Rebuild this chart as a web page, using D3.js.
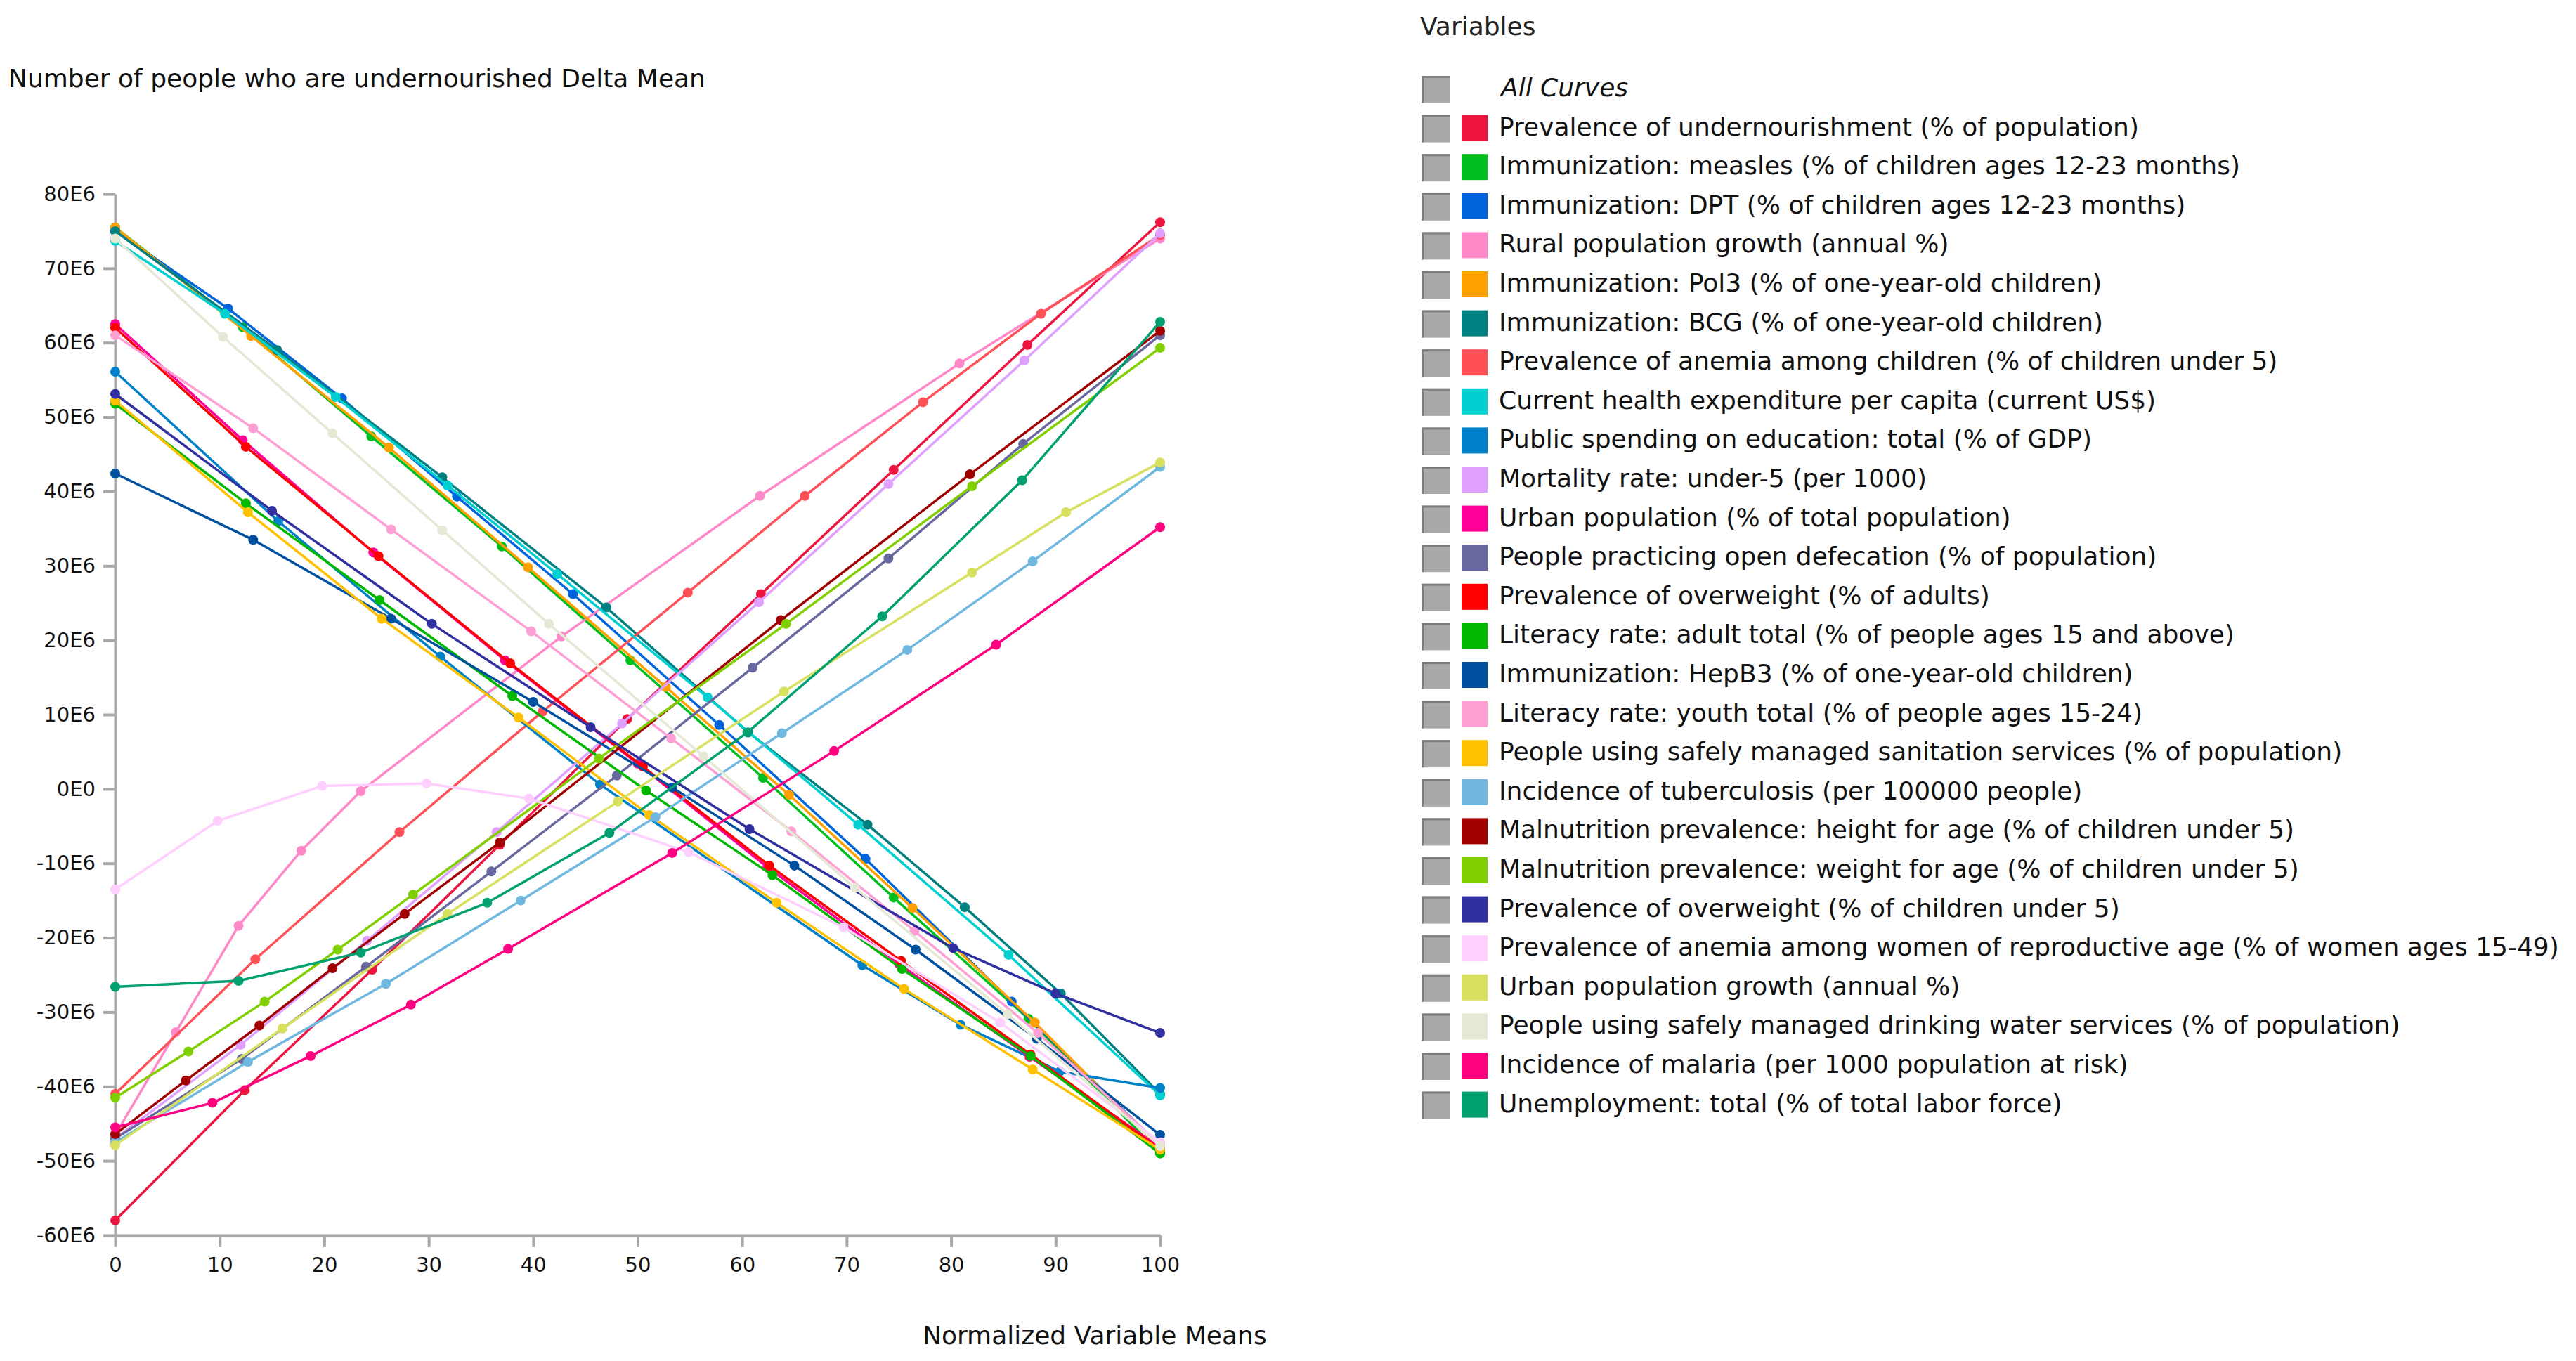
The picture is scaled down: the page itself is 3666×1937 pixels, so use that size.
<!DOCTYPE html>
<html>
<head>
<meta charset="utf-8">
<script src="https://cdn.jsdelivr.net/npm/d3@7"></script>
<style>
  body { margin: 0; background: #fff; }
  svg { display: block; font-family: "DejaVu Sans", sans-serif; }
</style>
</head>
<body>
<svg id="chart" width="3666" height="1937"></svg>
<script>
// x = normalized variable mean, y = delta mean (millions)
const undernourishment = [[0,-58],[12.4,-40.5],[24.6,-24.3],[36.8,-7.5],[49,9.4],[61.8,26.2],[74.5,42.9],[87.3,59.7],[100,76.2]];
const measles = [[0,75.5],[12.2,62.1],[24.5,47.4],[37,32.6],[49.3,17.3],[62,1.5],[74.5,-14.6],[87.4,-30.9],[100,-49]];
const dpt = [[0,75],[10.8,64.6],[21.7,52.5],[32.7,39.3],[43.8,26.2],[57.8,8.6],[71.8,-9.4],[85.8,-28.6],[100,-48]];
const ruralGrowth = [[0,-46.5],[5.8,-32.7],[11.8,-18.4],[17.8,-8.3],[23.5,-0.3],[42.7,20.5],[61.7,39.4],[80.8,57.2],[100,74]];
const pol3 = [[0,75.5],[13,60.9],[26.2,45.9],[39.5,29.8],[52.7,13.7],[64.5,-0.8],[76.3,-16],[88,-31.4],[100,-48.3]];
const bcg = [[0,75],[15.5,59],[31.3,41.9],[47,24.4],[60.6,7.6],[72,-4.8],[81.3,-15.9],[90.5,-27.5],[100,-41]];
const anemiaChildren = [[0,-41],[13.4,-22.9],[27.2,-5.8],[40.9,10.4],[54.8,26.4],[66,39.4],[77.3,52],[88.6,63.9],[100,74.5]];
const healthExp = [[0,73.7],[10.5,63.9],[21.1,52.7],[31.8,40.8],[42.3,28.9],[56.7,12.3],[71.1,-4.8],[85.5,-22.3],[100,-41.2]];
const eduSpending = [[0,56.1],[15.6,36],[31.1,17.8],[46.4,0.6],[71.5,-23.7],[80.9,-31.7],[90.4,-38],[100,-40.2]];
const mortality = [[0,-47],[12,-34.4],[24.1,-20.4],[36.5,-5.8],[48.5,8.8],[61.6,25.1],[74,41],[87,57.6],[100,74.7]];
const urbanPop = [[0,62.5],[12.2,46.9],[24.7,31.8],[37.3,17.3],[50,3.4],[62.4,-10.5],[75,-23.5],[87.5,-36],[100,-48.2]];
const openDefecation = [[0,-47],[12.1,-36.3],[24,-23.9],[36,-11.1],[48,1.8],[61,16.3],[74,31],[86.9,46.4],[100,61]];
const overweightAdults = [[0,62],[12.5,46],[25.2,31.3],[37.8,16.9],[50.5,3],[62.6,-10.3],[75.2,-23.1],[87.6,-35.7],[100,-48.5]];
const literacyAdult = [[0,51.8],[12.5,38.4],[25.3,25.4],[38,12.5],[50.8,-0.2],[62.9,-11.6],[75.3,-24.2],[87.6,-35.9],[100,-49]];
const hepb3 = [[0,42.4],[13.2,33.5],[26.4,22.9],[40,11.7],[53.3,0.2],[65,-10.3],[76.6,-21.6],[88.2,-33.6],[100,-46.5]];
const literacyYouth = [[0,61],[13.2,48.5],[26.4,34.9],[39.8,21.2],[53.2,6.8],[64.7,-5.7],[76.5,-19.1],[88.3,-32.8],[100,-47.8]];
const sanitation = [[0,52.2],[12.7,37.2],[25.5,22.9],[38.6,9.6],[51.1,-3.5],[63.3,-15.3],[75.5,-26.9],[87.8,-37.7],[100,-48.5]];
const tuberculosis = [[0,-47.5],[12.7,-36.7],[25.9,-26.2],[38.8,-15],[51.7,-3.8],[63.8,7.5],[75.8,18.7],[87.8,30.6],[100,43.3]];
const heightForAge = [[0,-46.4],[6.75,-39.2],[13.8,-31.8],[20.8,-24.1],[27.7,-16.8],[36.8,-7.2],[63.7,22.7],[81.8,42.3],[100,61.6]];
const weightForAge = [[0,-41.5],[7,-35.3],[14.3,-28.6],[21.3,-21.6],[28.5,-14.2],[46.3,4.1],[64.2,22.2],[82,40.7],[100,59.3]];
const overweightChildren = [[0,53.1],[15,37.4],[30.3,22.2],[45.5,8.3],[60.7,-5.4],[80.2,-21.4],[90,-27.5],[100,-32.8]];
const anemiaWomen = [[0,-13.5],[9.8,-4.3],[19.8,0.4],[29.8,0.75],[39.6,-1.3],[54.9,-8.5],[69.7,-18.6],[84.7,-31.4],[100,-47.5]];
const urbanGrowth = [[0,-47.9],[16,-32.2],[31.8,-16.8],[48.1,-1.7],[64,13.1],[82,29.1],[91,37.2],[100,43.9]];
const drinkingWater = [[0,74],[10.3,60.8],[20.8,47.8],[31.3,34.8],[41.5,22.2],[56.3,4.4],[70.8,-13.3],[85.4,-30.3],[100,-48]];
const malaria = [[0,-45.5],[9.3,-42.2],[18.7,-35.9],[28.3,-29],[37.6,-21.5],[53.3,-8.6],[68.8,5.1],[84.3,19.4],[100,35.2]];
const unemployment = [[0,-26.6],[11.8,-25.8],[23.5,-22],[35.6,-15.3],[47.3,-5.9],[60.5,7.6],[73.4,23.2],[86.8,41.5],[100,62.8]];

const seriesNames = [
  'Prevalence of undernourishment (% of population)',
  'Immunization: measles (% of children ages 12-23 months)',
  'Immunization: DPT (% of children ages 12-23 months)',
  'Rural population growth (annual %)',
  'Immunization: Pol3 (% of one-year-old children)',
  'Immunization: BCG (% of one-year-old children)',
  'Prevalence of anemia among children (% of children under 5)',
  'Current health expenditure per capita (current US$)',
  'Public spending on education: total (% of GDP)',
  'Mortality rate: under-5 (per 1000)',
  'Urban population (% of total population)',
  'People practicing open defecation (% of population)',
  'Prevalence of overweight (% of adults)',
  'Literacy rate: adult total (% of people ages 15 and above)',
  'Immunization: HepB3 (% of one-year-old children)',
  'Literacy rate: youth total (% of people ages 15-24)',
  'People using safely managed sanitation services (% of population)',
  'Incidence of tuberculosis (per 100000 people)',
  'Malnutrition prevalence: height for age (% of children under 5)',
  'Malnutrition prevalence: weight for age (% of children under 5)',
  'Prevalence of overweight (% of children under 5)',
  'Prevalence of anemia among women of reproductive age (% of women ages 15-49)',
  'Urban population growth (annual %)',
  'People using safely managed drinking water services (% of population)',
  'Incidence of malaria (per 1000 population at risk)',
  'Unemployment: total (% of total labor force)'
];
const seriesPoints = [
  undernourishment, measles, dpt, ruralGrowth, pol3, bcg, anemiaChildren, healthExp,
  eduSpending, mortality, urbanPop, openDefecation, overweightAdults, literacyAdult,
  hepb3, literacyYouth, sanitation, tuberculosis, heightForAge, weightForAge,
  overweightChildren, anemiaWomen, urbanGrowth, drinkingWater, malaria, unemployment
];
const seriesColors = [
  '#ee1440', '#00c020', '#0064dc', '#ff88c8', '#ffa000', '#008080', '#ff5058', '#00d0d0',
  '#0080c8', '#e0a0ff', '#ff0098', '#6868a0', '#ff0000', '#00b800', '#0050a0', '#ffa0d4',
  '#ffc000', '#70b8e0', '#a00000', '#80d000', '#3030a0', '#ffd0ff', '#d8e060', '#e4e8d4',
  '#ff0080', '#00a070'
];

const xTicks = [0, 10, 20, 30, 40, 50, 60, 70, 80, 90, 100];
const yTicks = [-60, -50, -40, -30, -20, -10, 0, 10, 20, 30, 40, 50, 60, 70, 80];
const yTickLabels = ['-60E6', '-50E6', '-40E6', '-30E6', '-20E6', '-10E6', '0E0', '10E6', '20E6', '30E6', '40E6', '50E6', '60E6', '70E6', '80E6'];

const svg = d3.select('#chart');
const x = d3.scaleLinear().domain([0, 100]).range([164, 1651]);
const y = d3.scaleLinear().domain([-60, 80]).range([1758, 276]);

// titles
svg.append('text').attr('x', 12).attr('y', 124).attr('font-size', 36).attr('fill', '#111')
  .text('Number of people who are undernourished Delta Mean');
svg.append('text').attr('x', 1313).attr('y', 1913).attr('font-size', 36).attr('fill', '#111')
  .text('Normalized Variable Means');

// axes
const yAxis = svg.append('g').attr('transform', `translate(${x(0)},0)`)
  .call(d3.axisLeft(y).tickValues(yTicks).tickSize(17).tickSizeOuter(0).tickPadding(11)
    .tickFormat((d, i) => yTickLabels[i]));
const xAxis = svg.append('g').attr('transform', `translate(0,${y(-60)})`)
  .call(d3.axisBottom(x).tickValues(xTicks).tickSize(17).tickSizeOuter(0).tickPadding(14));
[yAxis, xAxis].forEach(g => {
  g.select('.domain').attr('stroke', '#a8a8a8').attr('stroke-width', 4);
  g.selectAll('.tick line').attr('stroke', '#a8a8a8').attr('stroke-width', 4);
  g.selectAll('.tick text').attr('font-size', 29).attr('fill', '#111')
    .attr('font-family', '"DejaVu Sans", sans-serif');
});

// lines and markers
const line = d3.line().x(d => x(d[0])).y(d => y(d[1]));
const plot = svg.append('g');
seriesPoints.forEach((pts, i) => {
  const g = plot.append('g');
  g.append('path').attr('d', line(pts)).attr('fill', 'none')
    .attr('stroke', seriesColors[i]).attr('stroke-width', 3.5).attr('stroke-linejoin', 'round');
  g.selectAll('circle').data(pts).join('circle')
    .attr('cx', d => x(d[0])).attr('cy', d => y(d[1])).attr('r', 7)
    .attr('fill', seriesColors[i]);
});

// legend
const legend = svg.append('g');
legend.append('text').attr('x', 2021).attr('y', 50).attr('font-size', 36).attr('fill', '#222')
  .text('Variables');
const rowY = i => 137 + i * 55.6;
const checkbox = (g, yb) => {
  g.append('rect').attr('x', 2023).attr('y', yb - 29).attr('width', 41).attr('height', 39)
    .attr('fill', '#a9a9a9');
  g.append('path').attr('d', `M2024.5,${yb + 10}V${yb - 27.5}H2064`)
    .attr('fill', 'none').attr('stroke', '#7c7c7c').attr('stroke-width', 3);
};
checkbox(legend, rowY(0));
legend.append('text').attr('x', 2136).attr('y', rowY(0)).attr('font-size', 36)
  .attr('font-style', 'italic').attr('fill', '#111').text('All Curves');
seriesNames.forEach((name, i) => {
  const yb = rowY(i + 1);
  checkbox(legend, yb);
  legend.append('rect').attr('x', 2080).attr('y', yb - 29).attr('width', 37).attr('height', 37)
    .attr('fill', seriesColors[i]);
  legend.append('text').attr('x', 2133).attr('y', yb).attr('font-size', 36).attr('fill', '#111')
    .text(name);
});
</script>
</body>
</html>
